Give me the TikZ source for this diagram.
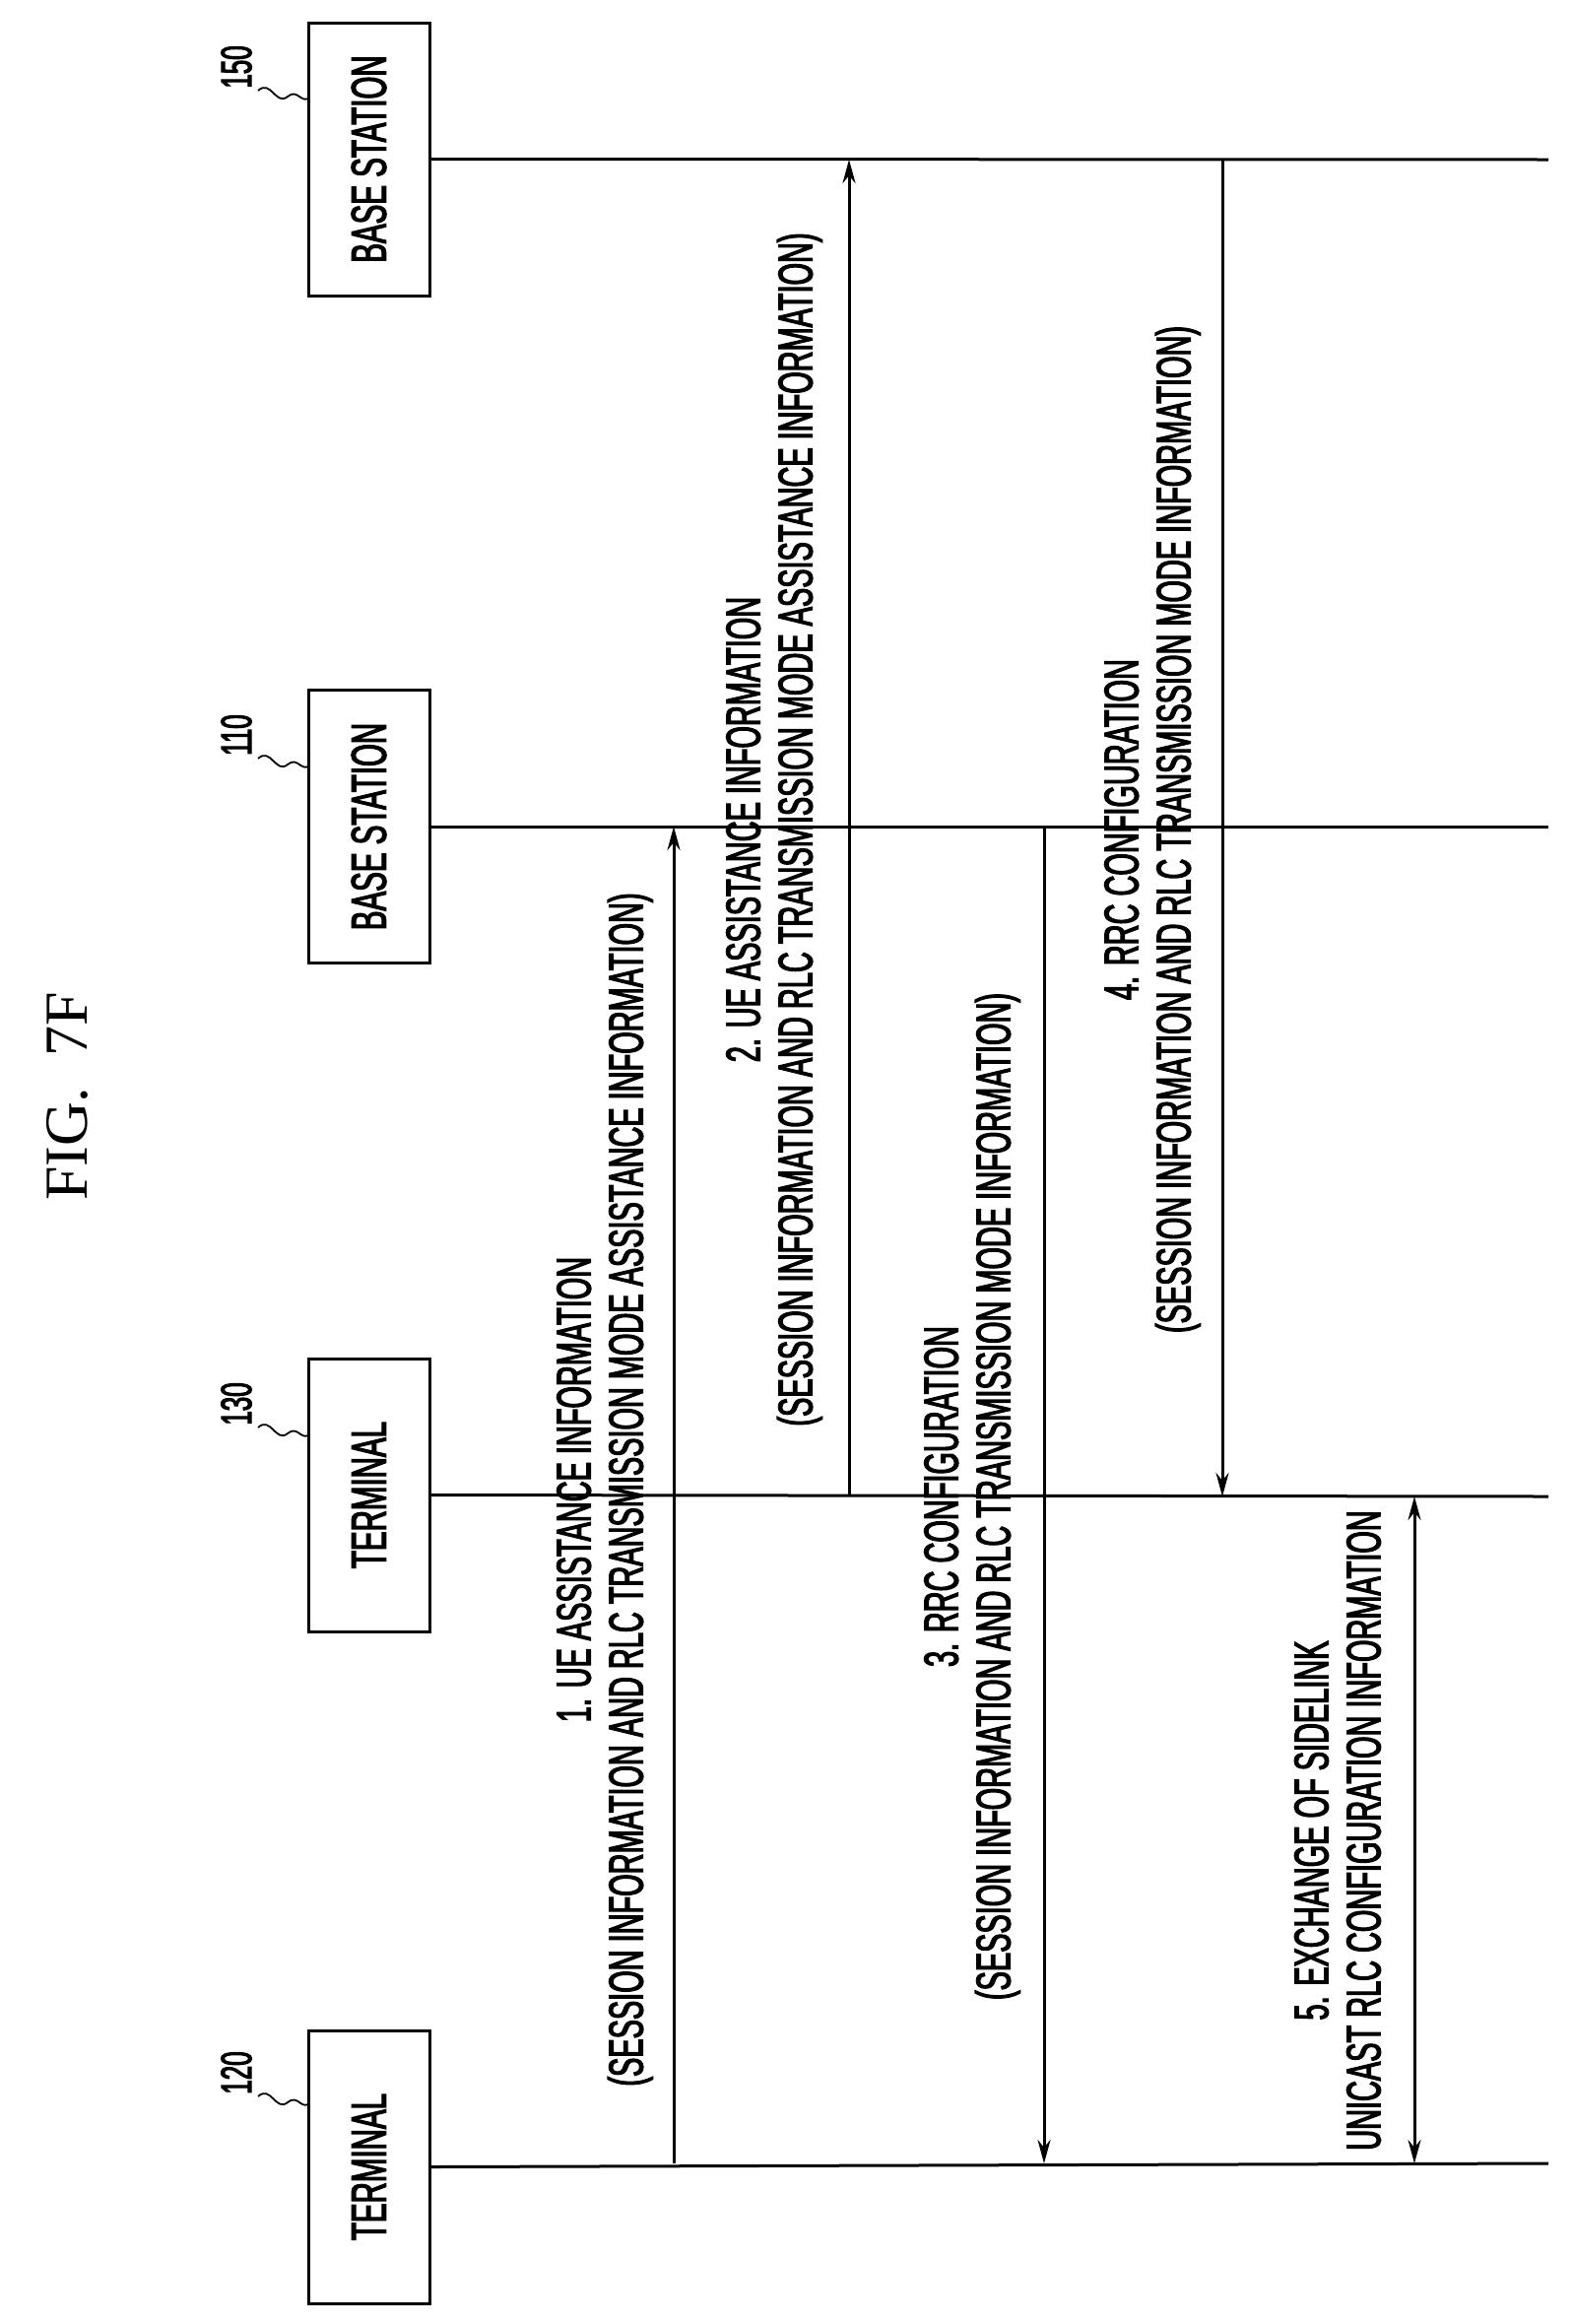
\documentclass[tikz,border=0pt]{standalone}
\usepackage{fontspec}
\setmainfont{Liberation Serif}
\newfontfamily\condfont[FakeStretch=0.59,FakeBold=2.5]{Liberation Sans}
\usetikzlibrary{arrows.meta, positioning}
\tikzstyle{entity} = [rectangle, draw=black, line width=3pt, minimum width=277pt, minimum height=123pt, rotate=90, font={\condfont\fontsize{50pt}{54pt}\selectfont}]
\tikzstyle{lifeline} = [line width=3pt]
\tikzstyle{msg} = [line width=3pt, -{Stealth[length=24pt,width=13pt]}]
\tikzstyle{label} = [rotate=90, align=center, font={\condfont\fontsize{49pt}{53pt}\selectfont}]
\tikzstyle{refnum} = [rotate=90, font={\condfont\fontsize{44pt}{48pt}\selectfont}]

\begin{document}
\begin{tikzpicture}[x=1pt, y=-1pt]
    \useasboundingbox (0,0) rectangle (1597,2359);
    \node (fig) [rotate=90, font=\fontsize{62pt}{66pt}\selectfont] at (68,1113) {FIG.\ \ 7F};

    \node (bs150) [entity] at (374.5,161.5) {BASE STATION};
    \node (bs110) [entity] at (374.5,839) {BASE STATION};
    \node (ue130) [entity] at (374.5,1517.5) {TERMINAL};
    \node (ue120) [entity] at (374.5,2199.5) {TERMINAL};

    \node (n150) [refnum] at (240,68) {150};
    \node (n110) [refnum] at (240,746) {110};
    \node (n130) [refnum] at (240,1425) {130};
    \node (n120) [refnum] at (240,2104) {120};
    % squiggles from reference numbers to boxes
    \foreach \y in {0,678,1357,2036}
        \draw [line width=1.8pt] (262,92+\y) .. controls (275,80+\y) and (280,108+\y) .. (292,98+\y) .. controls (302,90+\y) and (305,104+\y) .. (313,100+\y);

    \coordinate (e150) at (1572,162);
    \coordinate (e110) at (1572,839);
    \coordinate (e130) at (1572,1519);
    \coordinate (e120) at (1572,2196);
    \draw [lifeline] (bs150.south) -- (e150);
    \draw [lifeline] (bs110.south) -- (e110);
    \draw [lifeline] (ue130.south) -- (e130);
    \draw [lifeline] (ue120.south) -- (e120);

    \draw [msg] (684,2196) -- (684,839);
    \draw [msg] (862,1519) -- (862,162);
    \draw [msg] (1060,839) -- (1060,2196);
    \draw [msg] (1241,162) -- (1241,1519);
    \draw [msg, {Stealth[length=24pt,width=13pt]}-{Stealth[length=24pt,width=13pt]}] (1436,1519) -- (1436,2196);

    \node (m1) [label] at (614,1512) {1. UE ASSISTANCE INFORMATION\\(SESSION INFORMATION AND RLC TRANSMISSION MODE ASSISTANCE INFORMATION)};
    \node (m2) [label] at (786,842) {2. UE ASSISTANCE INFORMATION\\(SESSION INFORMATION AND RLC TRANSMISSION MODE ASSISTANCE INFORMATION)};
    \node (m3) [label] at (987,1519) {3. RRC CONFIGURATION\\(SESSION INFORMATION AND RLC TRANSMISSION MODE INFORMATION)};
    \node (m4) [label] at (1170,842) {4. RRC CONFIGURATION\\(SESSION INFORMATION AND RLC TRANSMISSION MODE INFORMATION)};
    \node (m5) [label] at (1358,1858) {5. EXCHANGE OF SIDELINK\\UNICAST RLC CONFIGURATION INFORMATION};
\end{tikzpicture}
\end{document}
